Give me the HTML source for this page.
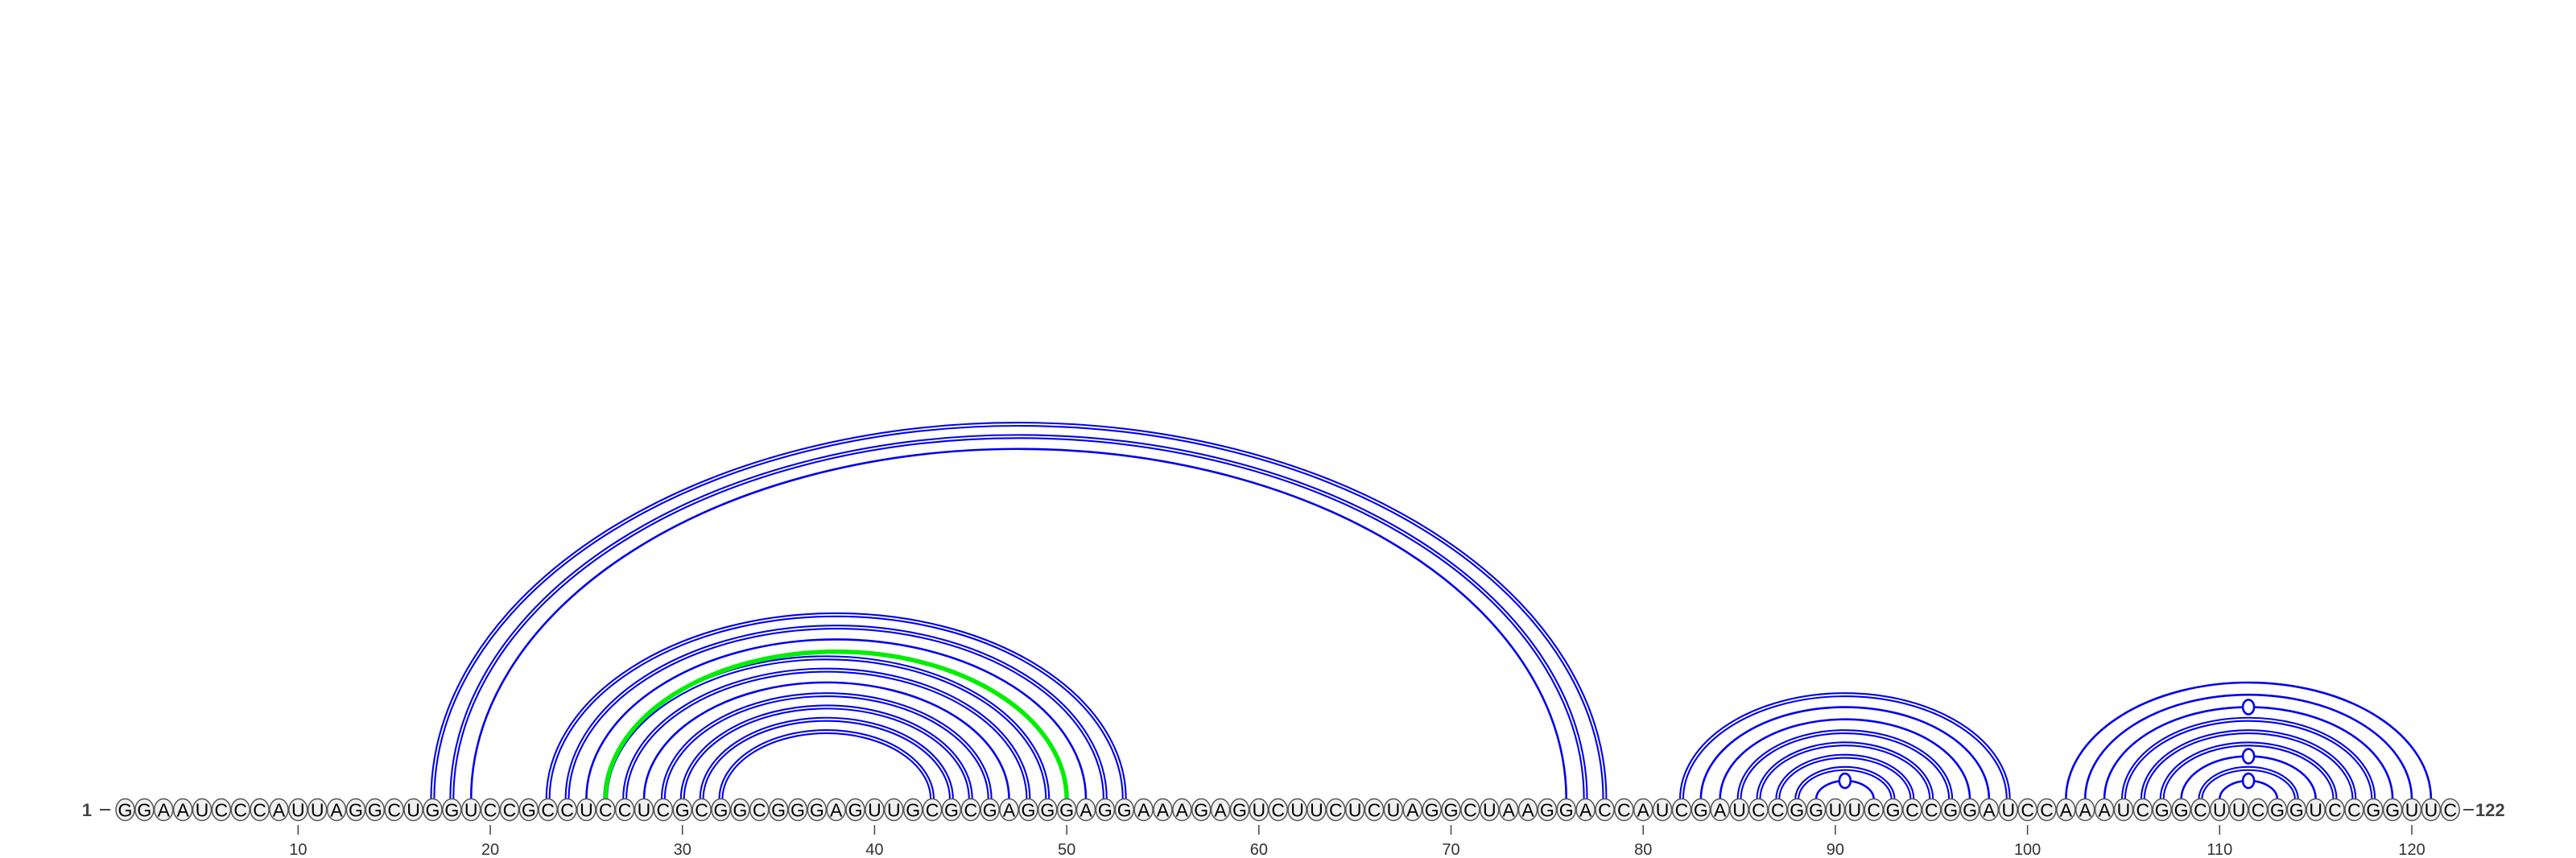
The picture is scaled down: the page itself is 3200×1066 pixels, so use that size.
<!DOCTYPE html>
<html><head><meta charset="utf-8"><style>
html,body{margin:0;padding:0;background:#fff;}
svg{display:block;}
text{font-family:"Liberation Sans",sans-serif;}
</style></head><body>
<svg id="chart" width="3200" height="1066" viewBox="0 0 3200 1066" xmlns="http://www.w3.org/2000/svg">
<g id="arcs"></g>
<g id="nts"></g>
<g id="ticks"></g>
<text x="108" y="1014" font-size="22" font-weight="bold" fill="#444" text-anchor="middle">1</text>
<line x1="124" y1="1006" x2="137" y2="1006" stroke="#444" stroke-width="2"/>
<line x1="3060" y1="1006" x2="3073" y2="1006" stroke="#444" stroke-width="2"/>
<text x="3075" y="1014" font-size="22" font-weight="bold" fill="#444">122</text>
</svg>
<script>
const sequence = "GGAAUCCCAUUAGGCUGGUCCGCCUCCUCGCGGCGGGAGUUGCGCGAGGGAGGAAAGAGUCUUCUCUAGGCUAAGGACCAUCGAUCCGGUUCGCCGGAUCCAAAUCGGCUUCGGUCCGGUUC";
const pairI = [17,18,19, 23,24,25,26,27,28,29,30,31,32, 82,83,84,85,86,87,88,89, 102,103,104,105,106,107,108,109,110];
const pairJ = [78,77,76, 53,52,51,49,48,47,46,45,44,43, 99,98,97,96,95,94,93,92, 121,120,119,118,117,116,115,114,113];
const pairKind = ["D","D","S", "D","D","S","D","D","S","D","D","D","D", "D","S","S","D","D","D","D","M", "S","S","M","D","D","D","M","D","M"];
const greenI = [26];
const greenJ = [50];
const tickValues = [10,20,30,40,50,60,70,80,90,100,110,120];

const NS = "http://www.w3.org/2000/svg";
const X0 = 155.5, STEP = 23.87, YC = 1006, YB = 993, RATIO = 0.64;
function xPos(i){ return X0 + (i-1)*STEP; }
function mk(tag, attrs, parent){ const e=document.createElementNS(NS,tag); for(const k in attrs) e.setAttribute(k,attrs[k]); parent.appendChild(e); return e; }
function arcPath(i,j){ const a=xPos(i), b=xPos(j), rx=(b-a)/2, ry=rx*RATIO; return `M ${a} ${YB} A ${rx} ${ry} 0 0 1 ${b} ${YB}`; }

const arcs=document.getElementById('arcs');
for(let k=0;k<pairI.length;k++){
  const d=arcPath(pairI[k],pairJ[k]);
  if(pairKind[k]==="D"){
    const o=mk('path',{d:d,fill:'none',stroke:'#0000ee','stroke-width':6},arcs);
    
    
    const w=mk('path',{d:d,fill:'none',stroke:'#fff','stroke-width':1.8},arcs);
    
    
  } else {
    const o=mk('path',{d:d,fill:'none',stroke:'#0000ee','stroke-width':2.6},arcs);
    
    
    if(pairKind[k]==="M"){
      const cx=(xPos(pairI[k])+xPos(pairJ[k]))/2, ry=(xPos(pairJ[k])-xPos(pairI[k]))/2*RATIO;
      const m=mk('ellipse',{cx:cx,cy:YB-ry,rx:7,ry:9,fill:'#fff',stroke:'#0000ee','stroke-width':2.6},arcs);
      
      
    }
  }
}
for(let k=0;k<greenI.length;k++){
  const g=mk('path',{d:arcPath(greenI[k],greenJ[k]),fill:'none',stroke:'#00ee00','stroke-width':5.5},arcs);
  
  
}

const nts=document.getElementById('nts');
for(let i=1;i<=sequence.length;i++){
  const c=mk('ellipse',{cx:xPos(i),cy:YC,rx:11.5,ry:13.5,fill:'#f0f0f0',stroke:'#555','stroke-width':1.5},nts);
  
  
  const t=mk('text',{x:xPos(i),y:YC+8.5,'font-size':23,'text-anchor':'middle',fill:'#000'},nts);
  t.textContent=sequence[i-1];
  
  
}

const ticks=document.getElementById('ticks');
for(const v of tickValues){
  const l=mk('line',{x1:xPos(v),x2:xPos(v),y1:1025,y2:1037,stroke:'#444','stroke-width':1.5},ticks);
  
  
  const t=mk('text',{x:xPos(v),y:1062,'font-size':20,'text-anchor':'middle',fill:'#333'},ticks);
  t.textContent=v;
  
  
}
</script>
</body></html>
